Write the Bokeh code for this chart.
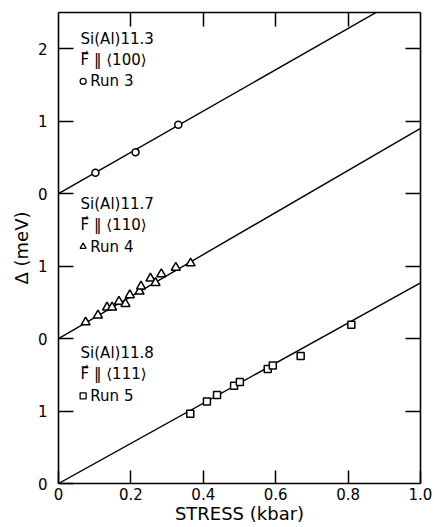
from bokeh.plotting import figure
from bokeh.models import Range1d, LinearAxis, FixedTicker
from bokeh.core.properties import value
from bokeh.embed import file_html
from bokeh.resources import INLINE

# Run 3 (circles): Si(Al)11.3, F || <100>
run3_stress = [0.102, 0.213, 0.331]
run3_delta = [0.29, 0.57, 0.95]
# Run 4 (triangles): Si(Al)11.7, F || <110>
run4_stress = [0.075, 0.109, 0.134, 0.148, 0.167, 0.185, 0.197, 0.224, 0.228,
               0.254, 0.268, 0.284, 0.324, 0.365]
run4_delta = [0.225, 0.32, 0.43, 0.43, 0.51, 0.48, 0.60, 0.65, 0.72,
              0.83, 0.77, 0.89, 0.98, 1.04]
# Run 5 (squares): Si(Al)11.8, F || <111>
run5_stress = [0.364, 0.41, 0.438, 0.485, 0.501, 0.578, 0.592, 0.669, 0.809]
run5_delta = [0.964, 1.13, 1.22, 1.35, 1.40, 1.58, 1.63, 1.76, 2.19]

# fitted slopes (meV/kbar) for runs 3, 4, 5
fit_slopes = [2.85, 2.90, 2.77]

samples = ["Si(Al)11.3", "Si(Al)11.7", "Si(Al)11.8"]
directions = ["F \u2016 \u27e8100\u27e9", "F \u2016 \u27e8110\u27e9", "F \u2016 \u27e8111\u27e9"]
runs = ["Run 3", "Run 4", "Run 5"]

y_ticks = [0, 1, 2, 3, 4, 5, 6]
y_tick_labels = ["0", "1", "0", "1", "0", "1", "2"]
x_ticks = [0, 0.2, 0.4, 0.6, 0.8, 1.0]
x_tick_labels = ["0", "0.2", "0.4", "0.6", "0.8", "1.0"]

# vertical offsets of the three stacked panels (layout)
offsets = [4, 2, 0]
markers = ["circle", "triangle", "square"]
stresses = [run3_stress, run4_stress, run5_stress]
deltas = [run3_delta, run4_delta, run5_delta]
marker_sizes = [7, 9, 7]

FONT = "DejaVu Sans"

p = figure(width=434, height=527, output_backend="svg", toolbar_location=None,
           x_range=Range1d(0, 1.0), y_range=Range1d(0, 6.5),
           min_border_left=58, min_border_right=14, min_border_top=12,
           min_border_bottom=44)
p.grid.visible = False
p.outline_line_color = None
p.background_fill_color = "white"
p.border_fill_color = "white"

def style_axis(ax, tick_len):
    ax.axis_line_color = "black"
    ax.axis_line_width = 1.6
    ax.major_tick_line_color = "black"
    ax.major_tick_line_width = 1.5
    ax.major_tick_in = tick_len
    ax.major_tick_out = 0
    ax.minor_tick_line_color = None
    ax.major_label_text_font = FONT
    ax.major_label_text_font_size = "15px"
    ax.major_label_text_color = "black"
    ax.axis_label_text_font = FONT
    ax.axis_label_text_font_style = "normal"
    ax.axis_label_text_font_size = "18px"
    ax.axis_label_text_color = "black"

# bottom axis
xa = p.xaxis[0]
xa.ticker = FixedTicker(ticks=x_ticks)
xa.major_label_overrides = {t: l for t, l in zip(x_ticks, x_tick_labels)}
xa.axis_label = "STRESS (kbar)"
style_axis(xa, 13)
xa.major_label_standoff = 4
xa.axis_label_standoff = 0

# left axis
ya = p.yaxis[0]
ya.ticker = FixedTicker(ticks=y_ticks)
ya.major_label_overrides = {t: l for t, l in zip(y_ticks, y_tick_labels)}
ya.axis_label = "\u0394 (meV)"
style_axis(ya, 15)
ya.major_label_orientation = "horizontal"
ya.major_label_standoff = 11
ya.axis_label_standoff = 3

# top axis (ticks only)
ta = LinearAxis(ticker=FixedTicker(ticks=x_ticks[1:-1]),
                major_label_overrides={t: "" for t in x_ticks[1:-1]})
style_axis(ta, 14)
ta.major_label_standoff = 0
p.add_layout(ta, "above")

# right axis (ticks only)
ra = LinearAxis(ticker=FixedTicker(ticks=y_ticks[1:]),
                major_label_overrides={t: "" for t in y_ticks[1:]})
style_axis(ra, 15)
ra.major_label_standoff = 0
p.add_layout(ra, "right")

# fitted lines
for off, slope in zip(offsets, fit_slopes):
    p.line([0, 1.0], [off, off + slope * 1.0], line_color="black", line_width=1.4)

# data points
for off, mk, xs, ds, sz in zip(offsets, markers, stresses, deltas, marker_sizes):
    p.scatter(xs, [off + d for d in ds], marker=mk, size=sz,
              fill_color="white", line_color="black", line_width=1.5)

# annotations
label_y = [6.14, 3.86, 1.80]
dy = 0.295
for i in range(3):
    y0 = label_y[i]
    p.text([0.061], [y0], text=[samples[i]], text_font=value(FONT),
           text_font_size="15px", text_baseline="middle", text_align="left",
           text_color="black")
    p.text([0.061], [y0 - dy], text=[directions[i]], text_font=value(FONT),
           text_font_size="15px", text_baseline="middle", text_align="left",
           text_color="black")
    # vector arrow over the F
    p.text([0.0725], [y0 - dy + 0.115], text=["\u2192"], text_font=value(FONT),
           text_font_size="9px", text_baseline="middle", text_align="center",
           text_color="black")
    p.scatter([0.068], [y0 - 2 * dy], marker=markers[i], size=6,
              fill_color="white", line_color="black", line_width=1.3)
    p.text([0.088], [y0 - 2 * dy], text=[runs[i]], text_font=value(FONT),
           text_font_size="15px", text_baseline="middle", text_align="left",
           text_color="black")

open("out.html", "w").write(file_html(p, INLINE))
